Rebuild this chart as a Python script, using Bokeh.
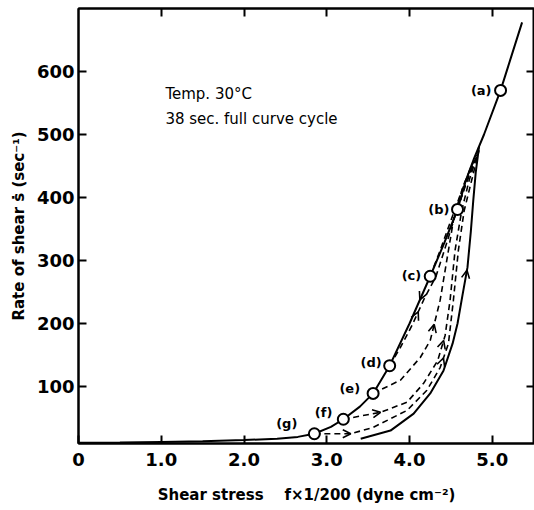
import numpy as np
from bokeh.plotting import figure
from bokeh.models import (ColumnDataSource, LabelSet, Label, Arrow, OpenHead,
                          LinearAxis, FixedTicker, Range1d)
from bokeh.core.properties import value
from bokeh.embed import file_html
from bokeh.resources import INLINE

# ---------------- data ----------------
# solid descending branch (through the marked points a..g)
down_x = [0.0, 0.5, 1.0, 1.5, 2.0, 2.4, 2.65, 2.85, 3.05, 3.20, 3.40, 3.56, 3.76,
          4.0, 4.25, 4.42, 4.58, 4.68, 4.78, 4.90, 5.10, 5.36]
down_y = [10.5, 11, 12, 13, 15, 17, 20, 25, 36, 48, 68, 89, 133,
          200, 275, 328, 381, 427, 462, 500, 570, 678]

# solid ascending branch (outer right)
up_x = [3.41, 3.77, 4.05, 4.25, 4.41, 4.52, 4.58, 4.64, 4.70, 4.74, 4.77, 4.80, 4.84]
up_y = [17, 30, 57, 89, 125, 168, 200, 245, 289, 345, 395, 440, 481]

# dashed partial loops starting from points g, f, e, d, c, b
g_x = [2.85, 3.29, 3.56, 3.97, 4.21, 4.37, 4.47, 4.53, 4.59, 4.66, 4.75, 4.84]
g_y = [25, 25, 35, 62, 94, 130, 168, 237, 316, 379, 427, 475]
f_x = [3.20, 3.65, 3.97, 4.17, 4.34, 4.43, 4.49, 4.55, 4.63, 4.72, 4.83]
f_y = [48, 59, 75, 105, 141, 181, 237, 316, 379, 427, 472]
e_x = [3.56, 3.89, 4.13, 4.25, 4.37, 4.46, 4.54, 4.65, 4.81]
e_y = [89, 110, 146, 173, 237, 308, 371, 419, 468]
d_x = [3.76, 3.89, 4.03, 4.18, 4.32, 4.44, 4.57, 4.69, 4.81]
d_y = [133, 162, 197, 240, 275, 324, 379, 424, 466]
c_x = [4.25, 4.37, 4.49, 4.61, 4.75]
c_y = [275, 316, 360, 403, 451]
b_x = [4.58, 4.67, 4.79]
b_y = [381, 419, 459]

# marked points
pt_x = [5.10, 4.58, 4.25, 3.76, 3.56, 3.20, 2.85]
pt_y = [570, 381, 275, 133, 89, 48, 25]
pt_lab = ["(a)", "(b)", "(c)", "(d)", "(e)", "(f)", "(g)"]

x_ticks = [0, 1, 2, 3, 4, 5]
x_tick_labels = ["0", "1.0", "2.0", "3.0", "4.0", "5.0"]
y_ticks = [100, 200, 300, 400, 500, 600]

x_title = "Shear stress\u00a0\u00a0\u00a0 f×1/200 (dyne cm⁻²)"
y_title = "Rate of shear ṡ (sec⁻¹)"
note1 = "Temp. 30°C"
note2 = "38 sec. full curve cycle"

# label offsets (styling, screen px)
lab_dx = [-9, -8, -9, -8, -13, -11, -17]
lab_dy = [0, 0, 1, 3, 5, 7, 10]

FONT = "DejaVu Sans"

p = figure(width=534, height=510, x_range=Range1d(0, 5.51), y_range=Range1d(9.5, 700),
           output_backend="svg", toolbar_location=None,
           min_border_left=78, min_border_right=0, min_border_top=8, min_border_bottom=67,
           background_fill_color="white", border_fill_color="white")
p.grid.visible = False
p.outline_line_color = "black"
p.outline_line_width = 2

def style_axis(ax, labels=True):
    ax.axis_line_width = 2
    ax.axis_line_color = "black"
    ax.major_tick_line_width = 2
    ax.major_tick_in = 8
    ax.major_tick_out = 0
    ax.minor_tick_line_color = None
    if labels:
        ax.major_label_text_font = FONT
        ax.major_label_text_font_style = "bold"
        ax.major_label_text_font_size = "18px"
        ax.major_label_text_color = "black"
        ax.axis_label_text_font = FONT
        ax.axis_label_text_font_style = "bold"
        ax.axis_label_text_font_size = "15px"
        ax.axis_label_text_color = "black"
    else:
        ax.major_label_text_font_size = "1px"
        ax.major_label_text_color = None
        ax.major_label_standoff = 0

xa = p.xaxis[0]
xa.ticker = FixedTicker(ticks=x_ticks)
xa.major_label_overrides = {t: l for t, l in zip(x_ticks, x_tick_labels)}
style_axis(xa)
xa.major_label_standoff = 9
xa.axis_label = x_title
xa.axis_label_standoff = 17

ya = p.yaxis[0]
ya.ticker = FixedTicker(ticks=y_ticks)
style_axis(ya)
ya.major_label_standoff = 4
ya.axis_label = y_title
ya.axis_label_standoff = 6

top = LinearAxis(ticker=FixedTicker(ticks=x_ticks[1:]))
style_axis(top, labels=False)
p.add_layout(top, "above")
right = LinearAxis(ticker=FixedTicker(ticks=y_ticks))
style_axis(right, labels=False)
p.add_layout(right, "right")

# solid branches
p.line(down_x, down_y, line_color="black", line_width=2)
p.line(up_x, up_y, line_color="black", line_width=2)

# dashed loops
for xs, ys in [(g_x, g_y), (f_x, f_y), (e_x, e_y), (d_x, d_y), (c_x, c_y), (b_x, b_y)]:
    p.line(xs, ys, line_color="black", line_width=1.6, line_dash="6 4")

# arrowheads placed along the curves (curve, segment index, direction)
def add_head(xs, ys, i, forward=True, frac=0.6):
    x0, y0, x1, y1 = xs[i], ys[i], xs[i + 1], ys[i + 1]
    if not forward:
        x0, y0, x1, y1 = x1, y1, x0, y0
    xe = x0 + frac * (x1 - x0)
    ye = y0 + frac * (y1 - y0)
    p.add_layout(Arrow(x_start=x0, y_start=y0, x_end=xe, y_end=ye, line_alpha=0,
                       end=OpenHead(size=8, line_width=1.6, line_color="black")))

add_head(down_x, down_y, 13, forward=False, frac=0.5)
add_head(up_x, up_y, 7, frac=0.9)
add_head(g_x, g_y, 0, frac=1.0)
add_head(g_x, g_y, 5, frac=0.4)
add_head(f_x, f_y, 0, frac=1.0)
add_head(f_x, f_y, 4, frac=0.8)
add_head(e_x, e_y, 3, frac=0.4)
add_head(d_x, d_y, 2, frac=0.5)

# marked points
src = ColumnDataSource(dict(x=pt_x, y=pt_y, t=pt_lab, dx=lab_dx, dy=lab_dy))
p.scatter("x", "y", source=src, marker="circle", size=11, fill_color="white",
          line_color="black", line_width=2)
p.add_layout(LabelSet(x="x", y="y", text="t", source=src, x_offset="dx", y_offset="dy",
                      text_align="right", text_baseline="middle", text_font=value(FONT),
                      text_font_style="bold", text_font_size="13px", text_color="black"))

p.add_layout(Label(x=1.05, y=579, text=note1, text_baseline="top", text_font=FONT,
                   text_font_size="15px", text_color="black"))
p.add_layout(Label(x=1.05, y=539, text=note2, text_baseline="top", text_font=FONT,
                   text_font_size="15px", text_color="black"))

open("out.html", "w").write(file_html(p, INLINE))
